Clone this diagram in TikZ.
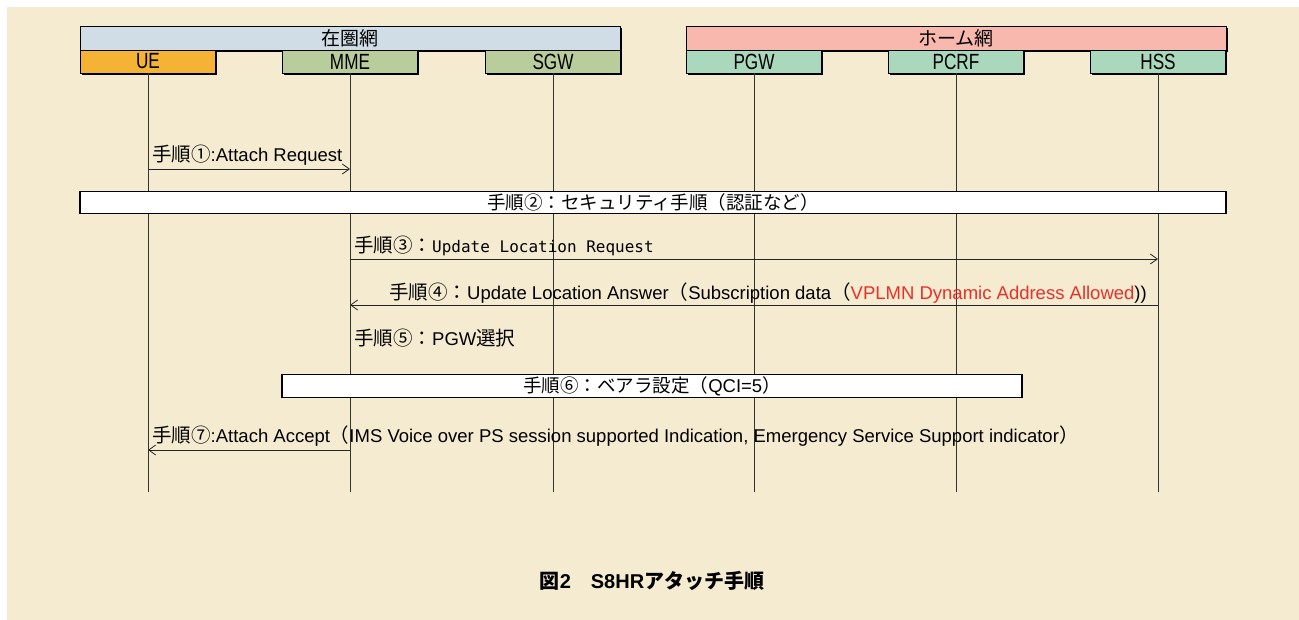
\documentclass[tikz,border=0pt]{standalone}
\usepackage{fontspec}
\setmainfont{Liberation Sans}
\newfontfamily\jp{Noto Sans CJK JP}
\newfontfamily\mono{DejaVu Sans Mono}
\newfontfamily\narrow[FakeStretch=0.78]{Liberation Sans}
\usetikzlibrary{arrows.meta,shadows}
\definecolor{bg}{HTML}{F5EBD0}
\definecolor{visitC}{HTML}{D0DDE6}
\definecolor{homeC}{HTML}{F8B8AE}
\definecolor{ueC}{HTML}{F5B335}
\definecolor{mmeC}{HTML}{B9CC9C}
\definecolor{pgwC}{HTML}{A9D8BD}
\definecolor{redT}{HTML}{E8302A}
\newcommand{\J}[1]{{\jp\fontsize{19.5}{21}\selectfont #1}}
\begin{document}
\begin{tikzpicture}[x=1pt,y=-1pt,
  shadowed/.style={drop shadow={shadow xshift=1.6pt,shadow yshift=-1.6pt,fill=black,opacity=1}},
  head/.style={draw=black,line width=0.8pt,minimum width=135pt,minimum height=23pt,inner sep=0pt,
    font=\narrow\fontsize{22}{24}\selectfont,shadowed},
  net/.style={draw=black,line width=0.8pt,minimum width=540pt,minimum height=24pt,inner sep=0pt,
    font=\jp\fontsize{19}{21}\selectfont,shadowed},
  life/.style={draw=black!80,line width=0.9pt},
  msg/.style={draw=black!85,line width=0.9pt,-{Straight Barb[length=7pt,width=10pt,line width=0.8pt]}},
  lbl/.style={inner sep=0pt,anchor=base west,font=\fontsize{18.5}{20}\selectfont},
  stepbox/.style={draw=black,line width=1.8pt,fill=white,inner sep=0pt,font=\jp\fontsize{18.5}{20}\selectfont},
  ]
\useasboundingbox (0,0) rectangle (1299,620);
\fill[white] (0,0) rectangle (1299,620);
\fill[bg] (7,7) rectangle (1299,620);

% networks
\node[net,fill=visitC] (visited) at (350,38) {在圏網};
\node[net,fill=homeC] (home) at (956,38) {ホーム網};

% heads
\node[head,fill=ueC]  (UE)   at (148,61.5) {UE};
\node[head,fill=mmeC] (MME)  at (350,61.5) {MME};
\node[head,fill=mmeC] (SGW)  at (553,61.5) {SGW};
\node[head,fill=pgwC] (PGW)  at (754,61.5) {PGW};
\node[head,fill=pgwC] (PCRF) at (956,61.5) {PCRF};
\node[head,fill=pgwC] (HSS)  at (1158,61.5) {HSS};

\coordinate (lend) at (0,492);
\foreach \n in {UE,MME,SGW,PGW,PCRF,HSS}
  \draw[life] (\n.south) -- (\n.south |- lend);

% step 1
\coordinate (y1) at (0,169);
\draw[msg] (UE |- y1) -- (MME |- y1);
\node[lbl] (t1) at (152,162) {\J{手順①}:Attach Request};

% step 2
\node[stepbox,minimum width=1146pt,minimum height=22pt] (s2) at (653,202.5) {手順②：セキュリティ手順（認証など）};

% step 3
\coordinate (y3) at (0,259);
\draw[msg] (MME |- y3) -- (HSS |- y3);
\node[lbl] (t3) at (354,253) {\J{手順③：}{\mono\fontsize{16}{18}\selectfont Update Location Request}};

% step 4
\coordinate (y4) at (0,305);
\draw[msg] (HSS |- y4) -- (MME |- y4);
\node[lbl] (t4) at (389,300) {\J{手順④：}Update Location Answer\J{（}Subscription data\J{（}\textcolor{redT}{VPLMN Dynamic Address Allowed}))};

% step 5
\node[lbl] (t5) at (354,346) {\J{手順⑤：}PGW\J{選択}};

% step 6
\node[stepbox,line width=1.5pt,minimum width=740pt,minimum height=23pt] (s6) at (652,386) {手順⑥：ベアラ設定（{\rmfamily QCI=5}）};

% step 7
\coordinate (y7) at (0,450);
\draw[msg] (MME |- y7) -- (UE |- y7);
\node[lbl] (t7) at (152,442) {\J{手順⑦}:Attach Accept\J{（}IMS Voice over PS session supported Indication, Emergency Service Support indicator\J{）}};

% caption
\node[inner sep=0pt,anchor=base,font=\fontsize{20}{22}\selectfont\bfseries] (cap) at (652,588) {{\jp\bfseries 図}2{\jp\bfseries 　}S8HR{\jp\bfseries アタッチ手順}};
\end{tikzpicture}
\end{document}
